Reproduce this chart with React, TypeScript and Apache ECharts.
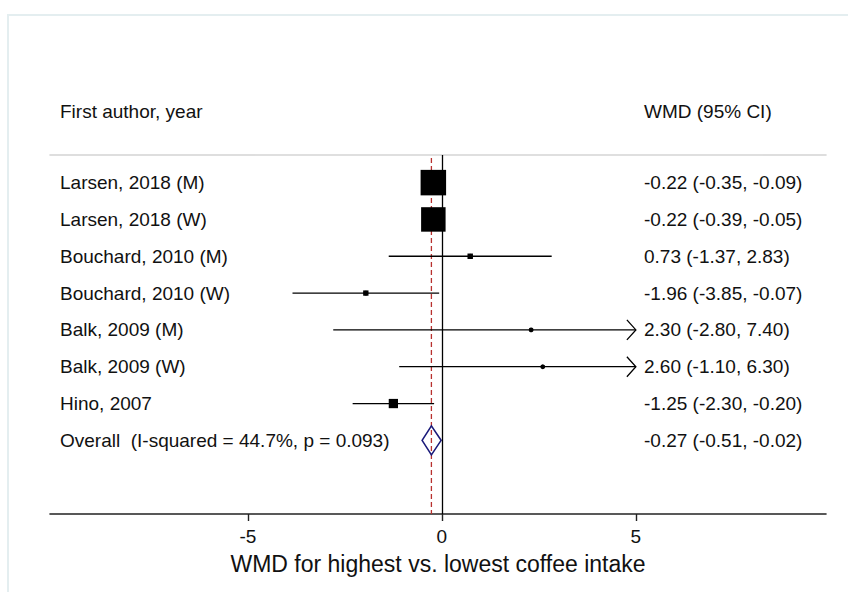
import React, { useEffect, useRef } from "react";
import * as echarts from "echarts";

const studies = [
  "Larsen, 2018 (M)",
  "Larsen, 2018 (W)",
  "Bouchard, 2010 (M)",
  "Bouchard, 2010 (W)",
  "Balk, 2009 (M)",
  "Balk, 2009 (W)",
  "Hino, 2007",
];
const estimates = [-0.22, -0.22, 0.73, -1.96, 2.3, 2.6, -1.25];
const lower = [-0.35, -0.39, -1.37, -3.85, -2.8, -1.1, -2.3];
const upper = [-0.09, -0.05, 2.83, -0.07, 7.4, 6.3, -0.2];
const weights = [46.0, 42.4, 2.1, 2.0, 0.7, 0.7, 6.1];

const overallLabel = "Overall  (I-squared = 44.7%, p = 0.093)";
const overall = { est: -0.27, lo: -0.51, hi: -0.02 };

const xTicks = [-5, 0, 5];
const xTitle = "WMD for highest vs. lowest coffee intake";
const headerLeft = "First author, year";
const headerRight = "WMD (95% CI)";

const FONT = "'Liberation Sans', Arial, Helvetica, sans-serif";

const fmt = (v: number) => v.toFixed(2);

export default function App() {
  const ref = useRef<HTMLDivElement>(null);
  useEffect(() => {
    if (!ref.current) return;
    const chart = echarts.init(ref.current, null, { renderer: "svg" });
    const leftLabels = [...studies, overallLabel];
    const rightLabels = [
      ...estimates.map((e, i) => `${fmt(e)} (${fmt(lower[i])}, ${fmt(upper[i])})`),
      `${fmt(overall.est)} (${fmt(overall.lo)}, ${fmt(overall.hi)})`,
    ];
    const rows = leftLabels.map((_, i) => i + 1);
    const clipMin = xTicks[0];
    const clipMax = xTicks[xTicks.length - 1];
    const studyData = estimates.map((e, i) => [e, lower[i], upper[i], i + 1, weights[i]]);

    const yBase = {
      type: "value",
      inverse: true,
      min: 0.25,
      max: 10,
      axisLine: { show: false },
      axisTick: { show: false },
      splitLine: { show: false },
    };

    chart.setOption({
      animation: false,
      backgroundColor: "#ffffff",
      grid: { left: 50, right: 22, top: 155, bottom: 78 },
      xAxis: [
        {
          type: "value",
          min: -10.1,
          max: 9.9,
          position: "bottom",
          axisLine: { show: true, onZero: false, lineStyle: { color: "#222", width: 1.6 } },
          axisTick: { show: true, customValues: xTicks, length: 7, lineStyle: { color: "#222", width: 1.4 } },
          axisLabel: {
            show: true,
            customValues: xTicks,
            fontSize: 19,
            color: "#111",
            fontFamily: FONT,
            margin: 13,
          },
          splitLine: { show: false },
          name: xTitle,
          nameLocation: "middle",
          nameGap: 38,
          nameTextStyle: { fontSize: 23, color: "#111", fontFamily: FONT },
        },
        {
          type: "value",
          min: -10.1,
          max: 9.9,
          position: "top",
          axisLine: { show: true, onZero: false, lineStyle: { color: "#d4d4d4", width: 1.6 } },
          axisTick: { show: false },
          axisLabel: { show: false },
          splitLine: { show: false },
        },
      ],
      yAxis: [
        {
          ...yBase,
          position: "left",
          axisLabel: {
            show: true,
            customValues: rows,
            formatter: (v: number) => leftLabels[Math.round(v) - 1] ?? "",
            align: "left",
            margin: -10,
            fontSize: 19,
            color: "#111",
            fontFamily: FONT,
          },
        },
        {
          ...yBase,
          position: "right",
          axisLabel: {
            show: true,
            customValues: rows,
            formatter: (v: number) => rightLabels[Math.round(v) - 1] ?? "",
            align: "left",
            margin: -182,
            fontSize: 19,
            color: "#111",
            fontFamily: FONT,
          },
        },
      ],
      graphic: [
        {
          type: "rect",
          shape: { x: 8, y: 15, width: 860, height: 600 },
          style: { fill: "none", stroke: "#e4eef0", lineWidth: 2 },
          silent: true,
        },
        {
          type: "text",
          x: 60,
          y: 111,
          style: { text: headerLeft, fontSize: 19, fill: "#111", fontFamily: FONT, verticalAlign: "middle" },
        },
        {
          type: "text",
          x: 644,
          y: 111,
          style: { text: headerRight, fontSize: 19, fill: "#111", fontFamily: FONT, verticalAlign: "middle" },
        },
      ],
      series: [
        {
          type: "custom",
          xAxisIndex: 0,
          yAxisIndex: 0,
          clip: false,
          data: studyData,
          renderItem: (params: any, api: any) => {
            const est = api.value(0);
            const lo = api.value(1);
            const hi = api.value(2);
            const row = api.value(3);
            const w = api.value(4);
            const pL = api.coord([Math.max(lo, clipMin), row]);
            const pH = api.coord([Math.min(hi, clipMax), row]);
            const pE = api.coord([est, row]);
            const y = pE[1];
            const s = Math.sqrt(w) * 3.76;
            const children: any[] = [
              {
                type: "line",
                shape: { x1: pL[0], y1: y, x2: pH[0], y2: y },
                style: { stroke: "#000", lineWidth: 1.3 },
              },
            ];
            if (hi > clipMax) {
              children.push({
                type: "polyline",
                shape: { points: [[pH[0] - 9, y - 10], [pH[0], y], [pH[0] - 9, y + 10]] },
                style: { stroke: "#000", lineWidth: 1.3, fill: "none" },
              });
            }
            if (lo < clipMin) {
              children.push({
                type: "polyline",
                shape: { points: [[pL[0] + 9, y - 10], [pL[0], y], [pL[0] + 9, y + 10]] },
                style: { stroke: "#000", lineWidth: 1.3, fill: "none" },
              });
            }
            children.push({
              type: "rect",
              shape: { x: pE[0] - s / 2, y: y - s / 2, width: s, height: s },
              style: { fill: "#000" },
            });
            children.push({
              type: "circle",
              shape: { cx: pE[0], cy: y, r: 2.4 },
              style: { fill: "#000" },
            });
            return { type: "group", children };
          },
          markLine: {
            silent: true,
            symbol: "none",
            label: { show: false },
            lineStyle: { color: "#000000", width: 1.3, type: "solid" },
            data: [{ xAxis: 0 }],
          },
          z: 3,
        },
        {
          type: "custom",
          xAxisIndex: 0,
          yAxisIndex: 0,
          clip: false,
          data: [[overall.est, overall.lo, overall.hi, leftLabels.length]],
          renderItem: (params: any, api: any) => {
            const pL = api.coord([api.value(1), api.value(3)]);
            const pH = api.coord([api.value(2), api.value(3)]);
            const pE = api.coord([api.value(0), api.value(3)]);
            const cs = params.coordSys;
            const y = pE[1];
            const h = 14.5;
            return {
              type: "group",
              children: [
                {
                  type: "line",
                  shape: { x1: pE[0], y1: cs.y + 3, x2: pE[0], y2: cs.y + cs.height },
                  style: { stroke: "#b8312f", lineWidth: 1.3, lineDash: [5, 3] },
                  z2: 1,
                },
                {
                  type: "polygon",
                  shape: { points: [[pL[0], y], [pE[0], y - h], [pH[0], y], [pE[0], y + h]] },
                  style: { fill: "none", stroke: "#1a1a7a", lineWidth: 1.6 },
                  z2: 2,
                },
              ],
            };
          },
          z: 2,
        },
      ],
    });
    return () => chart.dispose();
  }, []);
  return (
    <div
      ref={ref}
      style={{ position: "fixed", left: 0, top: 0, width: 848, height: 592 }}
    />
  );
}
